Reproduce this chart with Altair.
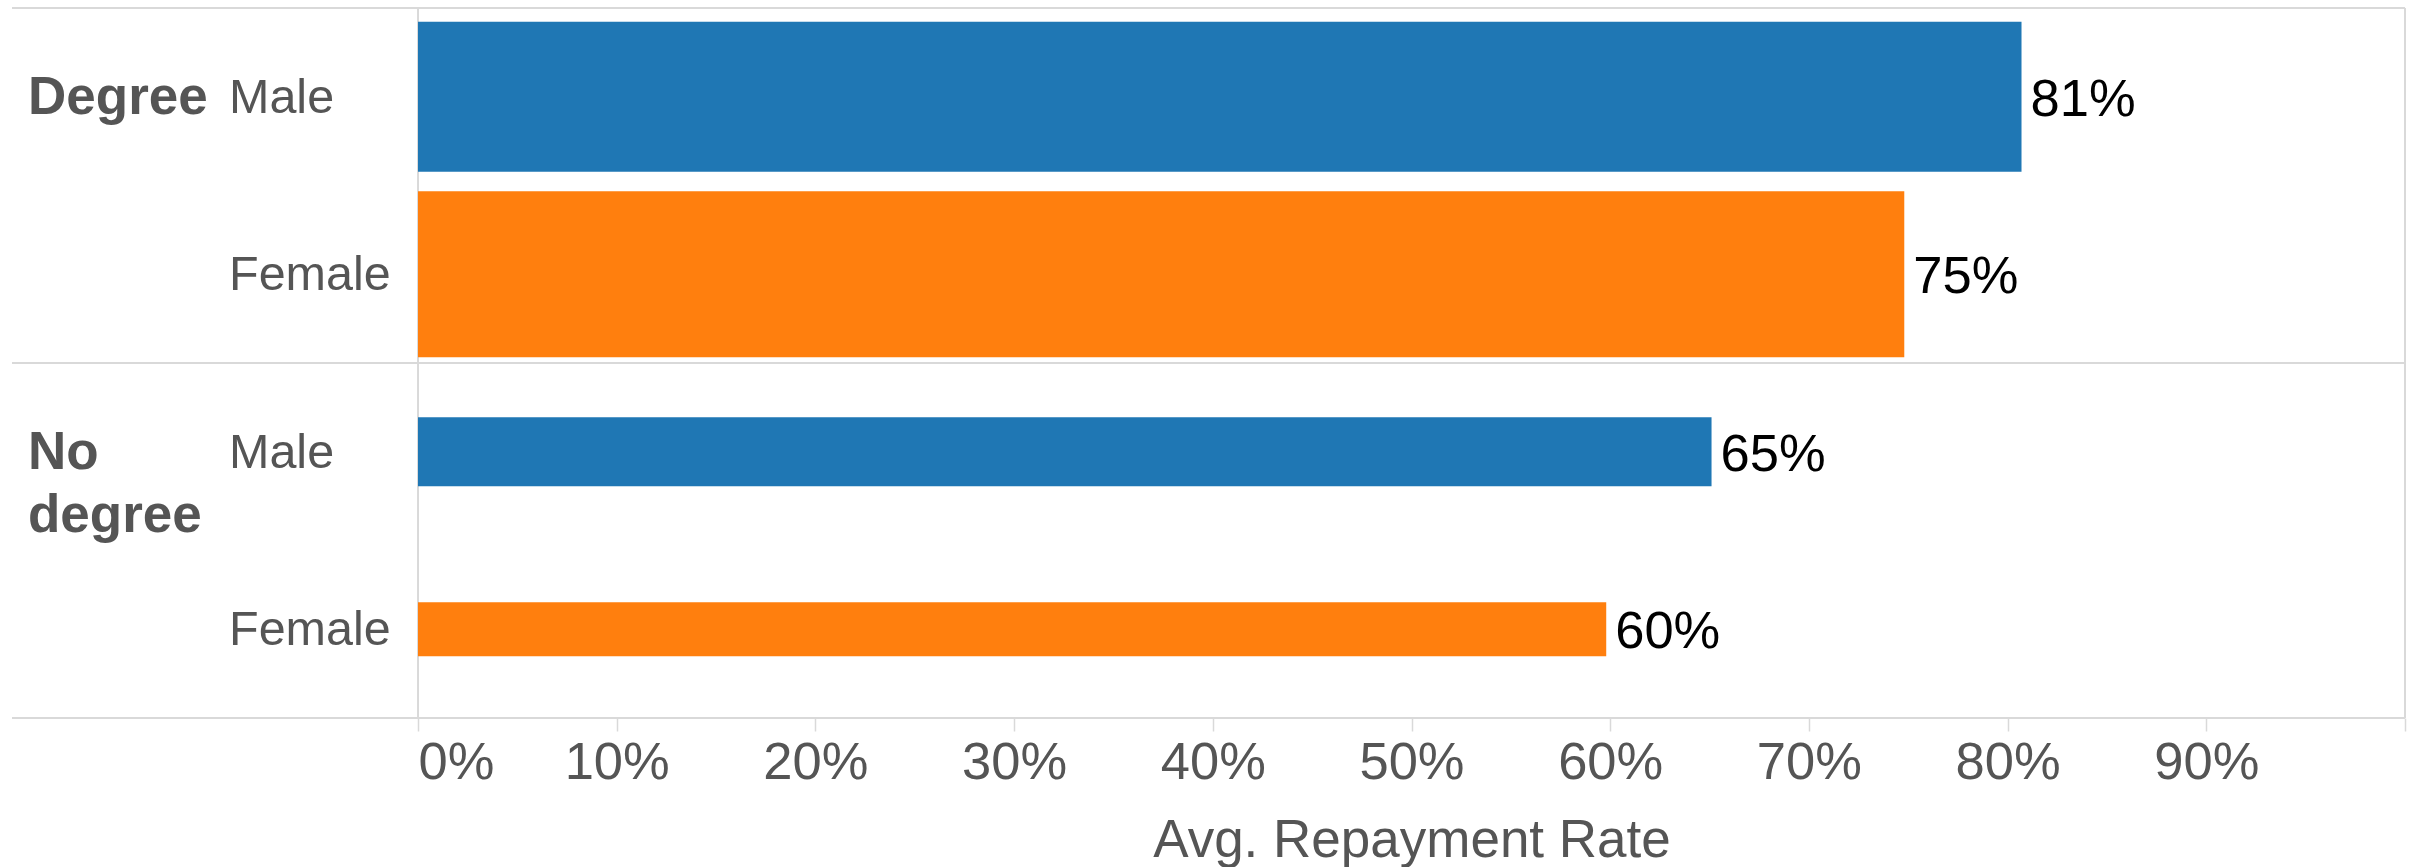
import altair as alt
import pandas as pd

# ---- data ----
education = ["Degree", "Degree", "No degree", "No degree"]
gender = ["Male", "Female", "Male", "Female"]
repayment_rate = [0.807, 0.748, 0.651, 0.598]
# relative number of loans (drives bar thickness), estimated
loan_volume = [150, 166, 69, 54]
tick_values = [0.0, 0.1, 0.2, 0.3, 0.4, 0.5, 0.6, 0.7, 0.8, 0.9, 1.0]

rows = [f"{e}|{g}" for e, g in zip(education, gender)]
df = pd.DataFrame({
    "Education": education,
    "Gender": gender,
    "Rate": repayment_rate,
    "Loans": loan_volume,
    "row": rows,
})

W, H = 1987, 710
GREY_LINE = "#d9d9d9"
TEXT_GREY = "#555555"
FONT = "Liberation Sans"

y_scale = alt.Scale(domain=rows, paddingInner=0, paddingOuter=0)
x_scale = alt.Scale(domain=[0, 1], nice=False, zero=True)

base = alt.Chart(df)

bars = base.mark_bar().encode(
    y=alt.Y("row:N", scale=y_scale, axis=None),
    x=alt.X(
        "Rate:Q",
        scale=x_scale,
        axis=alt.Axis(
            values=tick_values,
            labelExpr="datum.value >= 0.995 ? '' : format(datum.value, '.0%')",
            grid=False,
            domain=False,
            ticks=True,
            tickSize=13,
            tickWidth=1.5,
            tickColor=GREY_LINE,
            labelFont=FONT,
            labelFontSize=52.5,
            labelColor=TEXT_GREY,
            labelPadding=6,
            labelFlush=True,
            labelFlushOffset=0,
            title="Avg. Repayment Rate",
            titleFont=FONT,
            titleFontSize=53,
            titleFontWeight="normal",
            titleColor=TEXT_GREY,
            titleY=138,
            titleBaseline="alphabetic",
        ),
    ),
    color=alt.Color(
        "Gender:N",
        scale=alt.Scale(domain=["Male", "Female"], range=["#1f77b4", "#ff7f0e"]),
        legend=None,
    ),
    size=alt.Size("Loans:Q", scale=alt.Scale(domain=[0, 166], range=[0, 166]), legend=None),
)

values = base.mark_text(
    align="left", baseline="alphabetic", dx=9, dy=19, font=FONT, fontSize=52.5, color="black"
).encode(
    y=alt.Y("row:N", scale=y_scale, axis=None),
    x=alt.X("Rate:Q", scale=x_scale),
    text=alt.Text("Rate:Q", format=".0%"),
)

gender_labels = base.mark_text(
    align="left", baseline="alphabetic", dy=16, font=FONT, fontSize=48.5, color=TEXT_GREY
).encode(
    y=alt.Y("row:N", scale=y_scale, axis=None),
    x=alt.value(-189),
    text="Gender:N",
)

header_labels = base.transform_filter(alt.datum.Gender == "Male").mark_text(
    align="left", baseline="alphabetic", dy=17, font=FONT, fontSize=53,
    fontWeight="bold", color=TEXT_GREY, lineBreak=" ", lineHeight=63,
).encode(
    y=alt.Y("row:N", scale=y_scale, axis=None),
    x=alt.value(-390),
    text="Education:N",
)

group_lines = base.transform_filter(alt.datum.Gender == "Male").mark_rule(
    color=GREY_LINE, strokeWidth=2
).encode(
    y=alt.Y("row:N", scale=y_scale, axis=None, bandPosition=0),
    x=alt.value(-406),
    x2=alt.value(W),
)

bottom_line = base.transform_filter(
    (alt.datum.Education == "No degree") & (alt.datum.Gender == "Female")
).mark_rule(color=GREY_LINE, strokeWidth=2).encode(
    y=alt.Y("row:N", scale=y_scale, axis=None, bandPosition=1),
    x=alt.value(-406),
    x2=alt.value(W),
)

left_line = base.mark_rule(color=GREY_LINE, strokeWidth=1.2).encode(
    x=alt.value(0), y=alt.value(0), y2=alt.value(H)
)
right_line = base.mark_rule(color=GREY_LINE, strokeWidth=2).encode(
    x=alt.value(W), y=alt.value(0), y2=alt.value(H)
)

chart = alt.layer(
    left_line, right_line, group_lines, bottom_line, bars, values, gender_labels, header_labels
).properties(
    width=W,
    height=H,
    autosize=alt.AutoSizeParams(type="none"),
    padding={"left": 418, "top": 8, "right": 7, "bottom": 149},
    background="white",
).configure_view(stroke=None)

chart.save("out.html", embed_options={"renderer": "svg", "actions": False})
